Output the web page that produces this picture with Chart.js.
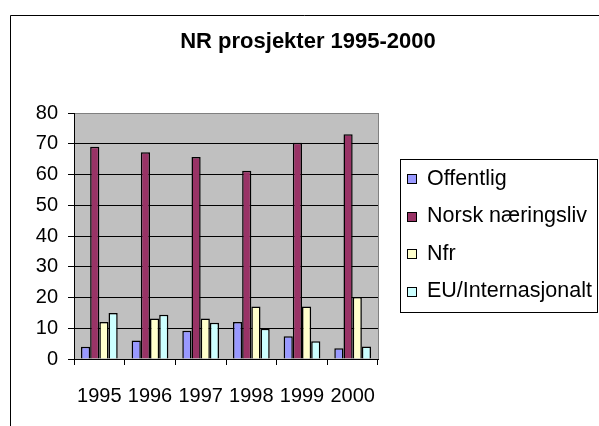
<!DOCTYPE html>
<html>
<head>
<meta charset="utf-8">
<script src="https://cdn.jsdelivr.net/npm/chart.js@4"></script>
<style>
  html,body{margin:0;padding:0;background:#fff;}
  #wrap{width:599px;height:426px;}
</style>
</head>
<body>
<div id="wrap"><canvas id="c" width="599" height="426"></canvas></div>
<script>
const titleText = "NR prosjekter 1995-2000";
const years = ["1995","1996","1997","1998","1999","2000"];
const seriesNames = ["Offentlig","Norsk næringsliv","Nfr","EU/Internasjonalt"];
const offentlig = [4, 6, 9.2, 12, 7.4, 3.5];
const norsk = [69, 67.2, 65.7, 61.2, 70.3, 73.1];
const nfr = [12, 13.2, 13.2, 17.1, 17.1, 20.2];
const eu = [15, 14.4, 11.8, 9.8, 5.8, 4.1];
const yTicks = [0,10,20,30,40,50,60,70,80];
const colors = ["#9999FF","#993366","#FFFFCC","#CCFFFF"];

const FONT = "'Liberation Sans', Arial, sans-serif";

const decor = {
  id: 'decor',
  beforeDraw(chart) {
    const ctx = chart.ctx, a = chart.chartArea;
    ctx.save();
    ctx.fillStyle = '#fff';
    ctx.fillRect(0, 0, chart.width, chart.height);
    ctx.strokeStyle = '#000';
    ctx.lineWidth = 1;
    ctx.beginPath();
    ctx.moveTo(10.5, chart.height);
    ctx.lineTo(10.5, 15.5);
    ctx.lineTo(chart.width, 15.5);
    ctx.stroke();
    ctx.fillStyle = '#C0C0C0';
    ctx.fillRect(a.left, a.top, a.right - a.left, a.bottom - a.top);
    ctx.restore();
  },
  afterDraw(chart) {
    const ctx = chart.ctx, a = chart.chartArea;
    ctx.save();
    ctx.strokeStyle = '#808080';
    ctx.lineWidth = 1;
    ctx.beginPath();
    ctx.moveTo(Math.round(a.right) + 0.5, a.top);
    ctx.lineTo(Math.round(a.right) + 0.5, a.bottom);
    ctx.stroke();
    ctx.fillStyle = '#000';
    ctx.font = "bold 22px " + FONT;
    ctx.textAlign = 'center';
    ctx.textBaseline = 'middle';
    ctx.fillText(titleText, 308, 42);
    ctx.strokeStyle = '#000';
    ctx.strokeRect(400.5, 159.5, 197, 153);
    ctx.font = "21.5px " + FONT;
    ctx.textAlign = 'left';
    chart.data.datasets.forEach((ds, i) => {
      const cy = 179 + i * 37.5;
      ctx.fillStyle = ds.backgroundColor;
      ctx.fillRect(407, Math.round(cy - 5), 10, 10);
      ctx.strokeStyle = '#000';
      ctx.strokeRect(407.5, Math.round(cy - 5) + 0.5, 9, 9);
      ctx.fillStyle = '#000';
      ctx.fillText(ds.label, 427, cy);
    });
    ctx.restore();
  }
};

const seriesData = [offentlig, norsk, nfr, eu];

new Chart(document.getElementById('c'), {
  type: 'bar',
  data: {
    labels: years,
    datasets: seriesNames.map((n, i) => ({
      label: n,
      data: seriesData[i],
      backgroundColor: colors[i],
      borderColor: '#000',
      borderWidth: 1.5,
      barPercentage: 1,
      categoryPercentage: 0.725
    }))
  },
  options: {
    responsive: false,
    animation: false,
    devicePixelRatio: 1,
    layout: { padding: { left: 0, top: 113, right: 221, bottom: 0 } },
    plugins: { legend: { display: false }, title: { display: false }, tooltip: { enabled: false } },
    scales: {
      x: {
        offset: true,
        grid: { offset: true, drawOnChartArea: false, drawTicks: true, tickLength: 6, color: '#000' },
        border: { display: true, color: '#000', width: 1 },
        ticks: { font: { family: FONT, size: 20 }, color: '#000', padding: 19, maxRotation: 0 },
        afterFit(s) { s.height = 67; }
      },
      y: {
        min: 0, max: 80,
        afterBuildTicks(s) { s.ticks = yTicks.map(v => ({ value: v })); },
        grid: {
          color: (c) => (c.tick && c.tick.value === 80) ? '#808080' : '#000',
          tickColor: '#000',
          tickLength: 6,
          drawTicks: true
        },
        border: { display: true, color: '#000', width: 1 },
        ticks: { font: { family: FONT, size: 20 }, color: '#000', padding: 10 },
        afterFit(s) { s.width = 74; }
      }
    }
  },
  plugins: [decor]
});
</script>
</body>
</html>
